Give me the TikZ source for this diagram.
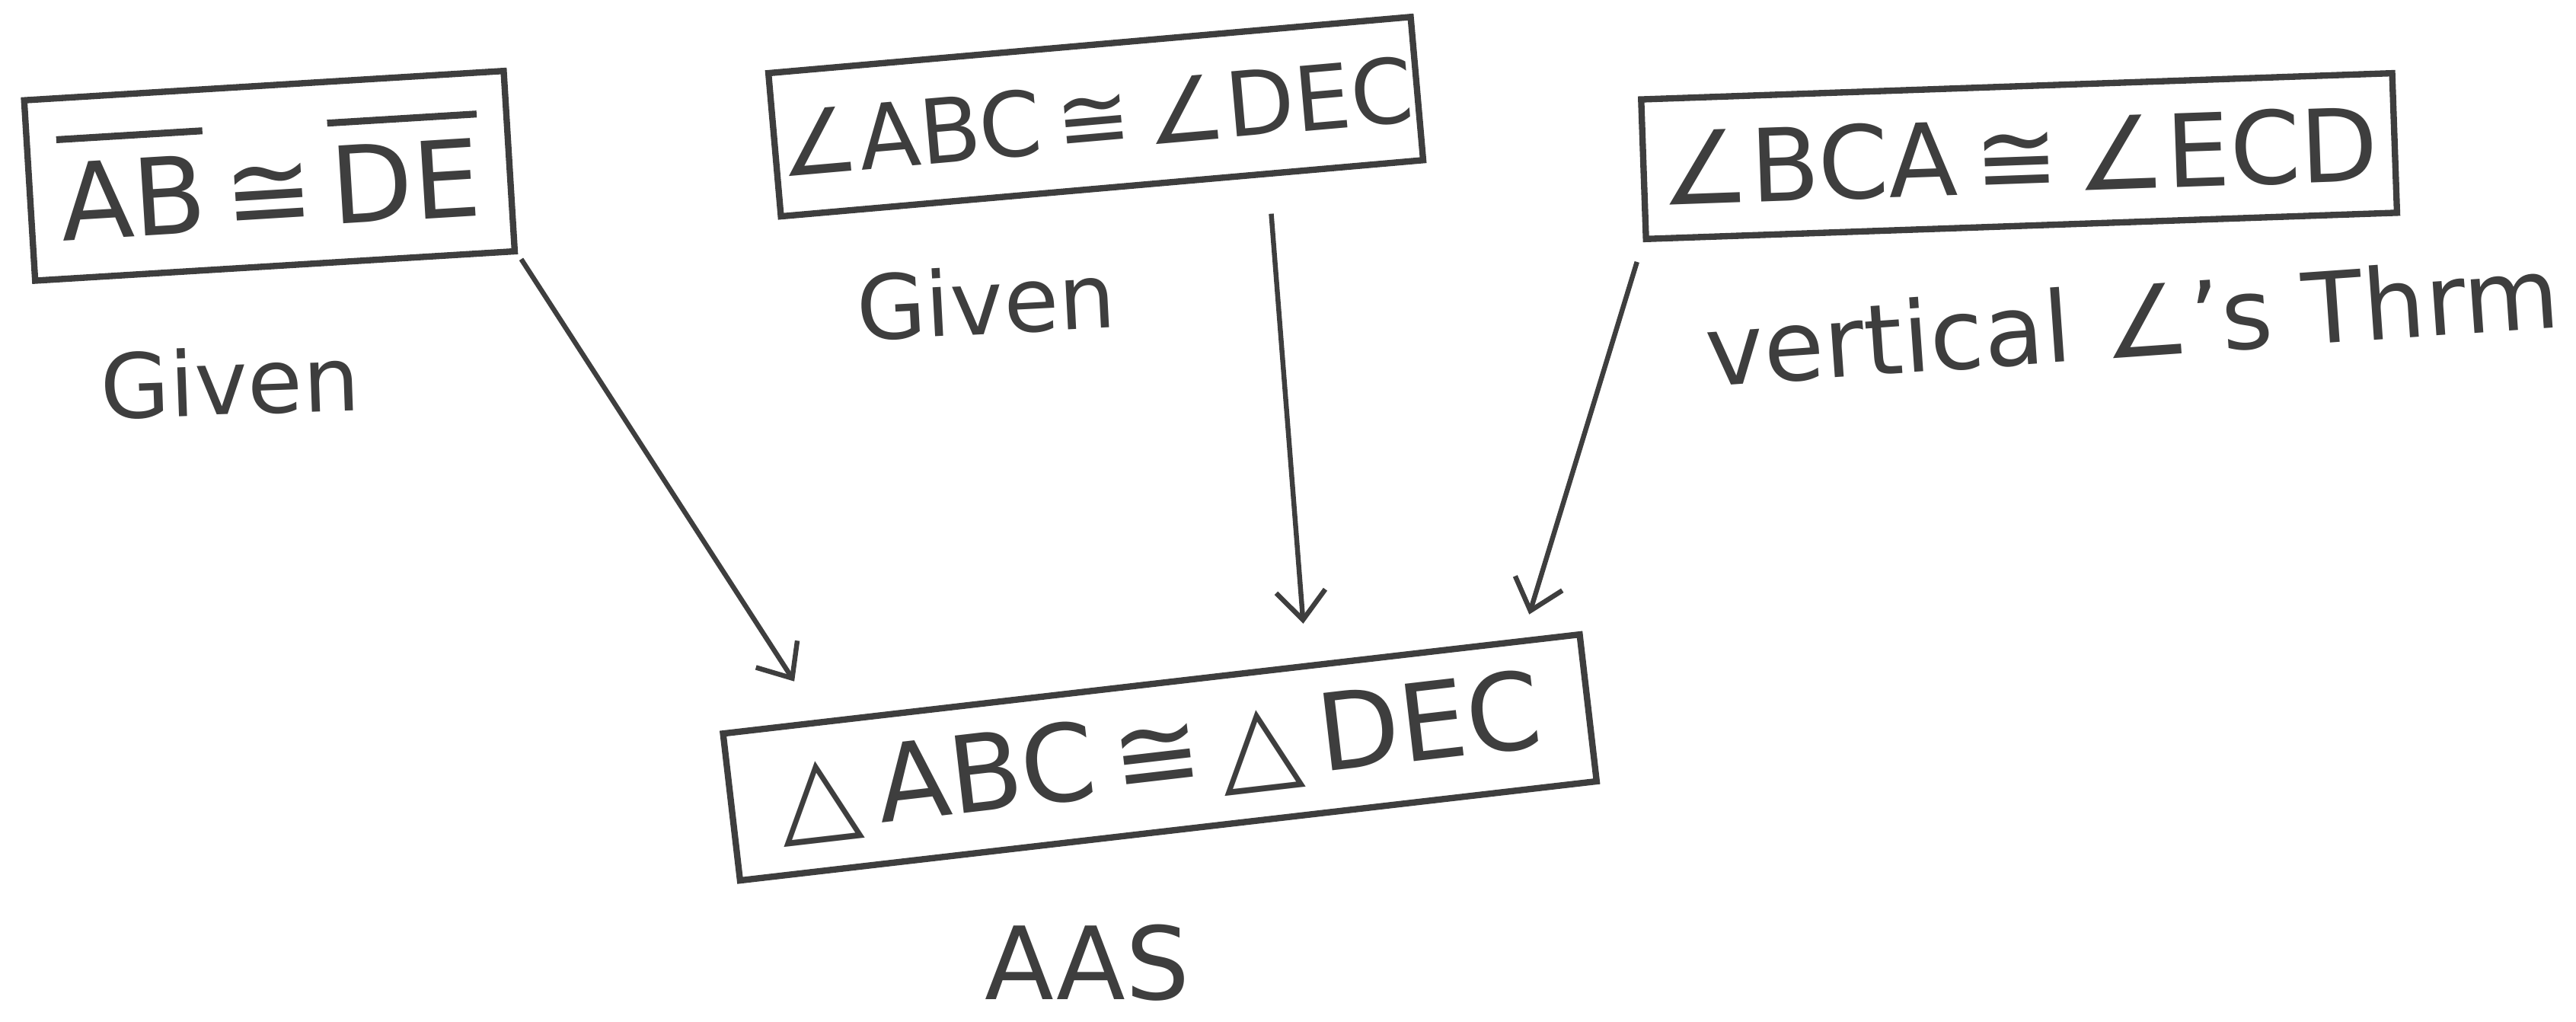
\documentclass[tikz,border=0pt]{standalone}
\usepackage{fontspec}
\setmainfont{DejaVu Sans}
\definecolor{pencil}{RGB}{62,62,62}
\usetikzlibrary{arrows.meta, calc}
\newcommand{\segbar}[1]{\vbox{\hrule height 2.4pt\kern 7pt\hbox{#1}}}
\tikzset{
	claim/.style={rectangle, draw=pencil, line width=2.2pt, text=pencil, align=center, inner sep=0pt, font=\fontsize{36}{42}\selectfont},
	reason/.style={text=pencil, inner sep=0pt, font=\fontsize{31}{36}\selectfont},
	arrow/.style={-{Straight Barb[length=3.5mm, width=6mm]}, line width=1.7pt, draw=pencil},
}

\begin{document}
\begin{tikzpicture}[x=0.02cm, y=-0.02cm]
	\useasboundingbox (0,0) rectangle (1568,622);
	% the three statements on top
	\node[claim, rotate=3.5, minimum width=5.85cm, minimum height=2.2cm, font=\fontsize{37}{42}\selectfont] (seg) at (164,107) {\segbar{AB}\,≅\,\segbar{DE}};
	\node[claim, rotate=5, minimum width=7.85cm, minimum height=1.75cm, font=\fontsize{31}{38}\selectfont] (ang1) at (667,71) {∠ABC\,≅\,∠DEC};
	\node[claim, rotate=2, minimum width=9.15cm, minimum height=1.7cm, font=\fontsize{35}{42}\selectfont] (ang2) at (1229,95) {∠BCA\,≅\,∠ECD};
	% conclusion
	\node[claim, rotate=6.6, minimum width=10.5cm, minimum height=1.8cm, font=\fontsize{37}{44}\selectfont] (tri) at (706,461) {△\,ABC\,≅\,△\,DEC};
	% reasons
	\node[reason, rotate=2] (g1) at (140,232) {Given};
	\node[reason, rotate=3] (g2) at (600,183) {Given};
	\node[reason, rotate=4, font=\fontsize{34}{40}\selectfont] (vt) at (1298,195) {vertical ∠'s Thrm};
	\node[reason, font=\fontsize{35}{40}\selectfont] (aas) at (662,586) {AAS};
	% arrows into the conclusion
	\draw[arrow, shorten <=2pt, shorten >=0.55cm] (seg.south east) -- ($(tri.north west)!0.115!(tri.north east)$);
	\draw[arrow, shorten <=0.45cm, shorten >=0.48cm] ($(ang1.south west)!0.756!(ang1.south east)$) -- ($(tri.north west)!0.68!(tri.north east)$);
	\draw[arrow, shorten <=0.25cm, shorten >=0.3cm] (ang2.south west) -- ($(tri.north west)!0.93!(tri.north east)$);
\end{tikzpicture}
\end{document}
